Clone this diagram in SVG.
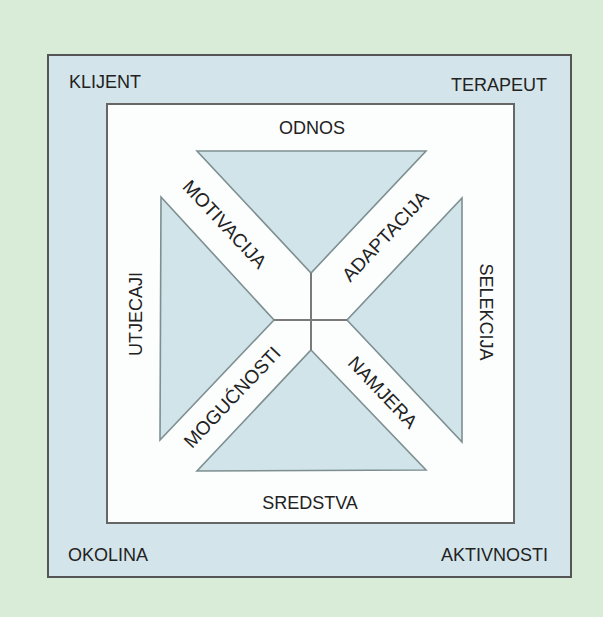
<svg xmlns="http://www.w3.org/2000/svg" width="603" height="617" viewBox="0 0 603 617">
<style>
text{font-family:"Liberation Sans",Arial,sans-serif;font-size:18px;fill:#222}
.m{text-anchor:middle}
.d{font-size:19px}
.tri{fill:#d1e4ea;stroke:#7d8f90;stroke-width:1.6;stroke-linejoin:miter}
.ctr{stroke:#7a7a7a;stroke-width:2;fill:none}
</style>
<rect x="0" y="0" width="603" height="617" fill="#d9ecd8"/>
<g id="outer">
<rect x="48" y="55" width="523" height="522" fill="#d3e5ea" stroke="#555" stroke-width="2"/>
</g>
<g id="inner">
<rect x="107" y="104" width="407" height="419" fill="#fcfdfd" stroke="#666" stroke-width="2"/>
</g>
<g id="triangles">
<polygon id="tri-top" class="tri" points="197,151 426,151 311,273"/>
<polygon id="tri-left" class="tri" points="161,197 274,320 160,440"/>
<polygon id="tri-right" class="tri" points="462,198 462,442 347,320"/>
<polygon id="tri-bottom" class="tri" points="311,350 426,470 197,471"/>
</g>
<g id="connectors">
<line class="ctr" x1="311" y1="273" x2="311" y2="350"/>
<line class="ctr" x1="274" y1="320" x2="347" y2="320"/>
</g>
<g id="corner-labels">
<text id="klijent" x="69" y="88">KLIJENT</text>
<text id="terapeut" x="547" y="91" text-anchor="end">TERAPEUT</text>
<text id="okolina" x="68" y="561">OKOLINA</text>
<text id="aktivnosti" x="548" y="561" text-anchor="end">AKTIVNOSTI</text>
</g>
<g id="band-labels">
<text id="odnos" class="m" x="312" y="134">ODNOS</text>
<text id="sredstva" class="m" x="310" y="509">SREDSTVA</text>
<text id="utjecaji" class="m" transform="translate(136,314) rotate(-90)" y="6.4">UTJECAJI</text>
<text id="selekcija" class="m" transform="translate(486,312) rotate(90)" y="6.4">SELEKCIJA</text>
<text id="motivacija" class="m d" transform="translate(225,224) rotate(47)" y="6.8">MOTIVACIJA</text>
<text id="adaptacija" class="m d" transform="translate(385,236) rotate(-46.7)" y="6.8">ADAPTACIJA</text>
<text id="mogucnosti" class="m d" transform="translate(232,397) rotate(-46.5)" y="6.8">MOGUĆNOSTI</text>
<text id="namjera" class="m d" transform="translate(383,392) rotate(46.5)" y="6.8">NAMJERA</text>
</g>
</svg>
